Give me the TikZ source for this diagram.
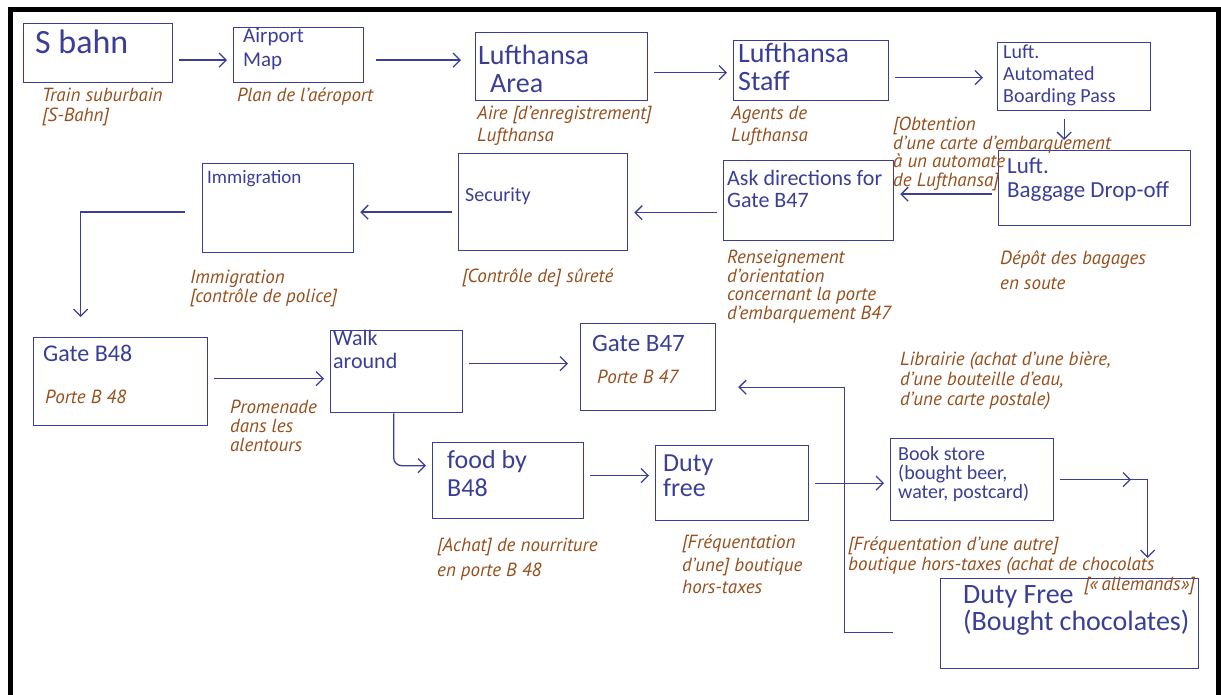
\documentclass[tikz,border=0pt]{standalone}
\usepackage{fontspec}
\usepackage{tikz}
\usetikzlibrary{arrows.meta,decorations.markings}
\newfontfamily\handfont{Carlito}
\newfontfamily\notefont{PT Sans}
\definecolor{inkblue}{RGB}{58,62,150}
\definecolor{notebrown}{RGB}{150,78,28}

\begin{document}
\begin{tikzpicture}[x=1pt, y=-1pt,
    box/.style={draw=inkblue, line width=1.3pt, anchor=north west, inner sep=0pt},
    hand/.style 2 args={text=inkblue, anchor=north west, align=left, inner sep=0pt,
                        font=\handfont\fontsize{#1}{#2}\selectfont},
    note/.style={text=notebrown, anchor=north west, align=left, inner sep=0pt,
                 font=\notefont\itshape\fontsize{19}{#1}\selectfont},
    note/.default=20,
    arrow/.style={-{Straight Barb[length=7pt,width=14pt]}, line width=1.3pt,
                  draw=inkblue, shorten <=6pt, shorten >=6pt}
]
\useasboundingbox (0,0) rectangle (1221,695);
\draw[line width=5pt, line join=miter] (10,695) -- (10,10) -- (1218,10) -- (1218,695);

% boxes
\node[box, minimum width=149pt, minimum height=59pt] (sbahn)   at (23,23)   {};
\node[box, minimum width=130pt, minimum height=55pt] (airport) at (233,27)  {};
\node[box, minimum width=172pt, minimum height=68pt] (area)    at (475,32)  {};
\node[box, minimum width=155pt, minimum height=60pt] (staff)   at (733,40)  {};
\node[box, minimum width=153pt, minimum height=68pt] (automat) at (997,42)  {};
\node[box, minimum width=192pt, minimum height=75pt] (baggage) at (998,150) {};
\node[box, minimum width=170pt, minimum height=80pt] (askdir)  at (723,160) {};
\node[box, minimum width=169pt, minimum height=97pt] (security) at (458,153) {};
\node[box, minimum width=151pt, minimum height=89pt] (immig)   at (202,163) {};
\node[box, minimum width=174pt, minimum height=88pt] (gate48)  at (33,337)  {};
\node[box, minimum width=132pt, minimum height=82pt] (walk)    at (330,330) {};
\node[box, minimum width=135pt, minimum height=87pt] (gate47)  at (580,323) {};
\node[box, minimum width=151pt, minimum height=76pt] (food)    at (432,442) {};
\node[box, minimum width=153pt, minimum height=75pt] (duty)    at (655,445) {};
\node[box, minimum width=163pt, minimum height=82pt] (book)    at (890,438) {};
\node[box, minimum width=258pt, minimum height=90pt] (chocs)   at (940,578) {};

% handwritten texts
\node[hand={34}{36}] (sbahn-t)   at (35,30)   {S bahn};
\node[hand={21}{24}] (airport-t) at (243,28)  {Airport\\Map};
\node[hand={28}{28}] (area-t)    at (478,45)  {Lufthansa\\\hspace*{12pt}Area};
\node[hand={28}{28}] (staff-t)   at (738,43)  {Lufthansa\\Staff};
\node[hand={20}{22}] (automat-t) at (1003,45) {Luft.\\Automated\\Boarding Pass};
\node[hand={23}{24}] (baggage-t) at (1007,158) {Luft.\\Baggage Drop-off};
\node[hand={22}{22}] (askdir-t)  at (727,170) {Ask directions for\\Gate B47};
\node[hand={20}{22}] (security-t) at (465,188) {Security};
\node[hand={19}{22}] (immig-t)   at (207,170) {Immigration};
\node[hand={24}{26}] (gate48-t)  at (43,345)  {Gate B48};
\node[hand={22}{23}] (walk-t)    at (333,330) {Walk\\around};
\node[hand={25}{26}] (gate47-t)  at (592,335) {Gate B47};
\node[hand={26}{28}] (food-t)    at (447,450) {food by\\B48};
\node[hand={26}{25}] (duty-t)    at (663,455) {Duty\\free};
\node[hand={20}{19}] (book-t)    at (898,446) {Book store\\(bought beer,\\water, postcard)};
\node[hand={28}{27}] (chocs-t)   at (963,585) {Duty Free\\(Bought chocolates)};

% french notes
\node[note] (lbl-sbahn)   at (42,88)   {Train suburbain\\{}[S-Bahn]};
\node[note] (lbl-airport) at (237,88)  {Plan de l’aéroport};
\node[note=22] (lbl-area) at (477,106) {Aire [d’enregistrement]\\Lufthansa};
\node[note=22] (lbl-staff) at (731,106) {Agents de\\Lufthansa};
\node[note=18.5] (lbl-automat) at (893,117) {[Obtention\\d’une carte d’embarquement\\à un automate\\de Lufthansa]};
\node[note=25] (lbl-baggage) at (1000,250) {Dépôt des bagages\\en soute};
\node[note=18.5] (lbl-askdir) at (727,250) {Renseignement\\d’orientation\\concernant la porte\\d’embarquement B47};
\node[note] (lbl-security) at (462,268) {[Contrôle de] sûreté};
\node[note=19] (lbl-immig) at (190,270) {Immigration\\{}[contrôle de police]};
\node[note] (lbl-gate48)  at (45,390)  {Porte B 48};
\node[note=19] (lbl-walk) at (230,400) {Promenade\\dans les\\alentours};
\node[note] (lbl-gate47)  at (597,370) {Porte B 47};
\node[note=25] (lbl-food) at (437,538) {[Achat] de nourriture\\en porte B 48};
\node[note=22.5] (lbl-duty) at (682,535) {[Fréquentation\\d’une] boutique\\hors-taxes};
\node[note] (lbl-book)    at (900,352) {Librairie (achat d’une bière,\\d’une bouteille d’eau,\\d’une carte postale)};
\node[note] (lbl-chocs)   at (848,537) {[Fréquentation d’une autre]\\boutique hors-taxes (achat de chocolats};
\node[note] (lbl-chocs2)  at (1084,577) {[«\,allemands»]};

% connectors
\draw[arrow] ([yshift=-7pt]sbahn.east) -- ([yshift=-7pt]sbahn.east -| airport.west);
\draw[arrow, shorten <=12pt, shorten >=14pt] ([yshift=-5pt]airport.east) -- ([yshift=-5pt]airport.east -| area.west);
\draw[arrow] ([yshift=-6pt]area.east) -- ([yshift=-6pt]area.east -| staff.west);
\draw[arrow, shorten >=14pt] ([yshift=-7pt]staff.east) -- ([yshift=-7pt]staff.east -| automat.west);
\draw[arrow, shorten <=8pt, shorten >=10pt] ([xshift=-10pt]automat.south) -- ([xshift=-10pt]automat.south |- baggage.north);
\draw[arrow] ([yshift=-6pt]baggage.west) -- ([yshift=-6pt]baggage.west -| askdir.east);
\draw[arrow] ([yshift=-12pt]askdir.west) -- ([yshift=-12pt]askdir.west -| security.east);
\draw[arrow] ([yshift=-10pt]security.west) -- ([yshift=-10pt]security.west -| immig.east);
\draw[arrow, shorten <=17pt, shorten >=20pt] ([yshift=-4pt]immig.west) -| ([xshift=-40pt]gate48.north);
\draw[arrow] ([yshift=3pt]gate48.east) -- ([yshift=3pt]gate48.east -| walk.west);
\draw[arrow, shorten >=12pt] ([yshift=8pt]walk.east) -- ([yshift=8pt]walk.east -| gate47.west);
\draw[arrow, shorten <=0pt, rounded corners=8pt] ([xshift=-3pt]walk.south) |- ([yshift=15pt]food.west);
\draw[arrow] ([yshift=5pt]food.east) -- ([yshift=5pt]food.east -| duty.west);
\draw[arrow] (duty.east) -- (duty.east -| book.west);
\draw[arrow, shorten >=20pt, postaction={decorate, decoration={markings,
      mark=at position 0.4 with {\arrow{Straight Barb[length=7pt,width=14pt]}}}}]
  (book.east) -| ([xshift=78pt]chocs.north);
\draw[arrow, shorten <=47pt, shorten >=22pt] ([yshift=-9pt]chocs.west)
  -| ([xshift=128pt,yshift=-20pt]gate47.east) -- ([yshift=-20pt]gate47.east);
\end{tikzpicture}
\end{document}
